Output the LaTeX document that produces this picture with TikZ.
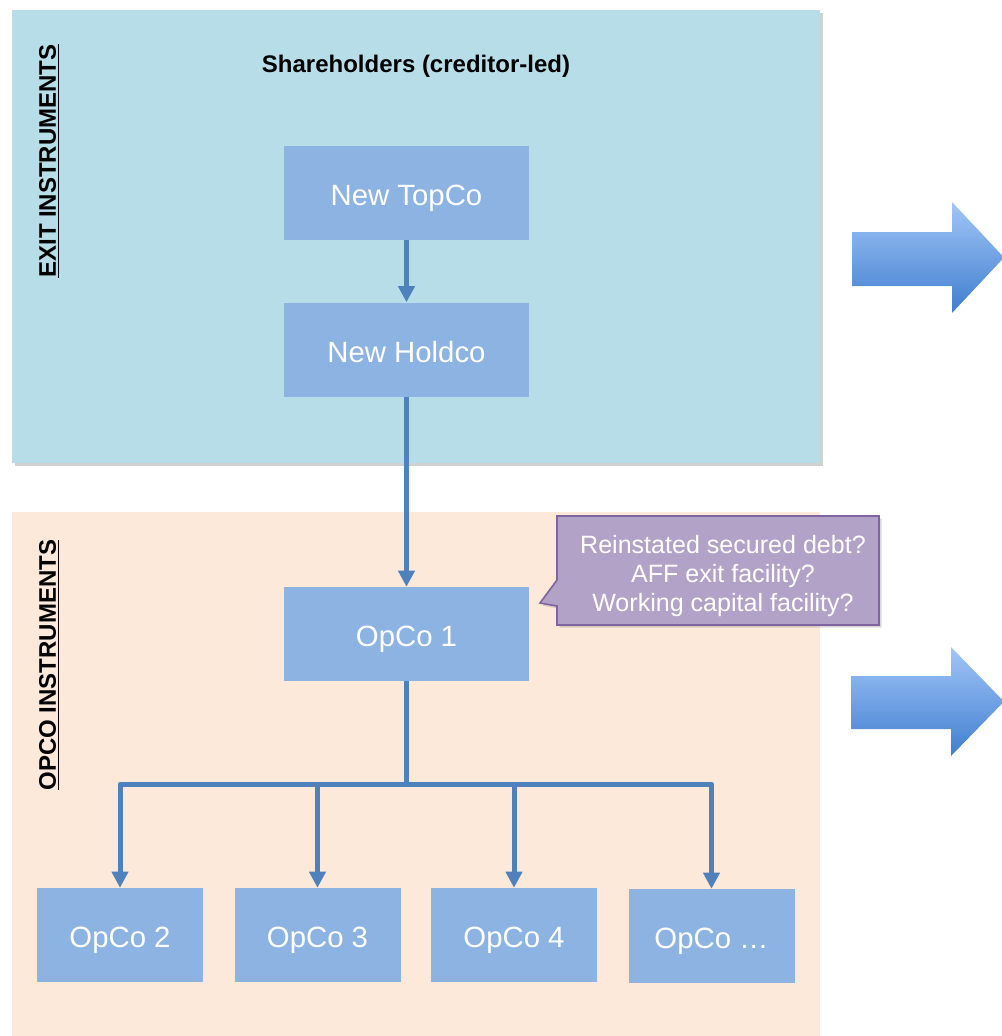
\documentclass[tikz,border=0pt]{standalone}
\usepackage{fontspec}
\setmainfont{Liberation Sans}
\usetikzlibrary{arrows.meta,shadows}

\definecolor{exitpanel}{HTML}{B7DEE8}
\definecolor{opcopanel}{HTML}{FDE9D9}
\definecolor{entity}{HTML}{8DB3E2}
\definecolor{linkblue}{HTML}{4F81BD}
\definecolor{notefill}{HTML}{B2A2C7}
\definecolor{noteline}{HTML}{8064A2}
\definecolor{arrowtop}{HTML}{A2C6F8}
\definecolor{arrowbot}{HTML}{3F7ECF}

\begin{document}
\begin{tikzpicture}[x=0.75pt,y=-0.75pt,
  entitybox/.style={fill=entity, text=white, inner sep=0pt,
    minimum width=183.75pt, minimum height=70.5pt,
    text height=18.8pt, text depth=0pt,
    font=\fontsize{22}{26}\selectfont},
  smallbox/.style={entitybox, minimum width=124.5pt},
  link/.style={draw=linkblue, line width=3.75pt, line join=round,
    -{Triangle[width=12pt,length=12pt]}},
  trunk/.style={draw=linkblue, line width=3.75pt},
  panelshadow/.style={drop shadow={shadow xshift=2pt, shadow yshift=-2.5pt,
    opacity=0.3, fill=black!60}},
  sidelabel/.style={rotate=90, font=\bfseries\fontsize{18}{22}\selectfont},
  bigarrow/.style={top color=arrowtop, bottom color=arrowbot, draw=none}]

\useasboundingbox (0,0) rectangle (1002,1036);

% panels
\fill[exitpanel, panelshadow] (12,10) rectangle (820,463);
\fill[opcopanel] (12,512) rectangle (820,1036);

% panel headings
\node[sidelabel] (exitlabel) at (49,161) {\underline{EXIT INSTRUMENTS}};
\node[sidelabel] (opcolabel) at (49,665) {\underline{OPCO INSTRUMENTS}};
\node[font=\bfseries\fontsize{18}{22}\selectfont] (holders) at (416,66)
  {Shareholders (creditor-led)};

% entities
\node[entitybox] (topco)  at (406.5,193)   {New TopCo};
\node[entitybox] (holdco) at (406.5,349.5) {New Holdco};
\node[entitybox] (opco1)  at (406.5,634)   {OpCo 1};
\node[smallbox]  (opco2)  at (120,935)     {OpCo 2};
\node[smallbox]  (opco3)  at (317.5,935)   {OpCo 3};
\node[smallbox]  (opco4)  at (514,935)     {OpCo 4};
\node[smallbox]  (opcon)  at (711.5,936)   {OpCo …};

% ownership links
\draw[link] (topco.south) -- (holdco.north);
\draw[link] (holdco.south) -- (opco1.north);
\coordinate (bus) at (406.5,784);
\draw[trunk] (opco1.south) -- (bus);
\draw[link] (bus) -| (opco2.north);
\draw[link] (bus) -| (opco3.north);
\draw[link] (bus) -| (opco4.north);
\draw[link] (bus) -| (opcon.north);

% callout on OpCo 1
\filldraw[fill=notefill, draw=noteline, line width=1.2pt, line join=miter,
  drop shadow={shadow xshift=2pt, shadow yshift=-2pt, opacity=0.3}]
  (557,516) -- (879,516) -- (879,625) -- (557,625) -- (557,606)
  -- (540,603) -- (557,580) -- cycle;
\node[text=white, align=center, font=\fontsize{18.8}{21.8}\selectfont]
  (note) at (723,576)
  {Reinstated secured debt?\\AFF exit facility?\\Working capital facility?};

% transition arrows
\path[bigarrow] (852,232) -- (952,232) -- (952,202) -- (1004,257.5)
  -- (952,313) -- (952,286) -- (852,286) -- cycle;
\path[bigarrow] (851,676) -- (951,676) -- (951,647) -- (1004,701.5)
  -- (951,756) -- (951,729) -- (851,729) -- cycle;

\end{tikzpicture}
\end{document}
